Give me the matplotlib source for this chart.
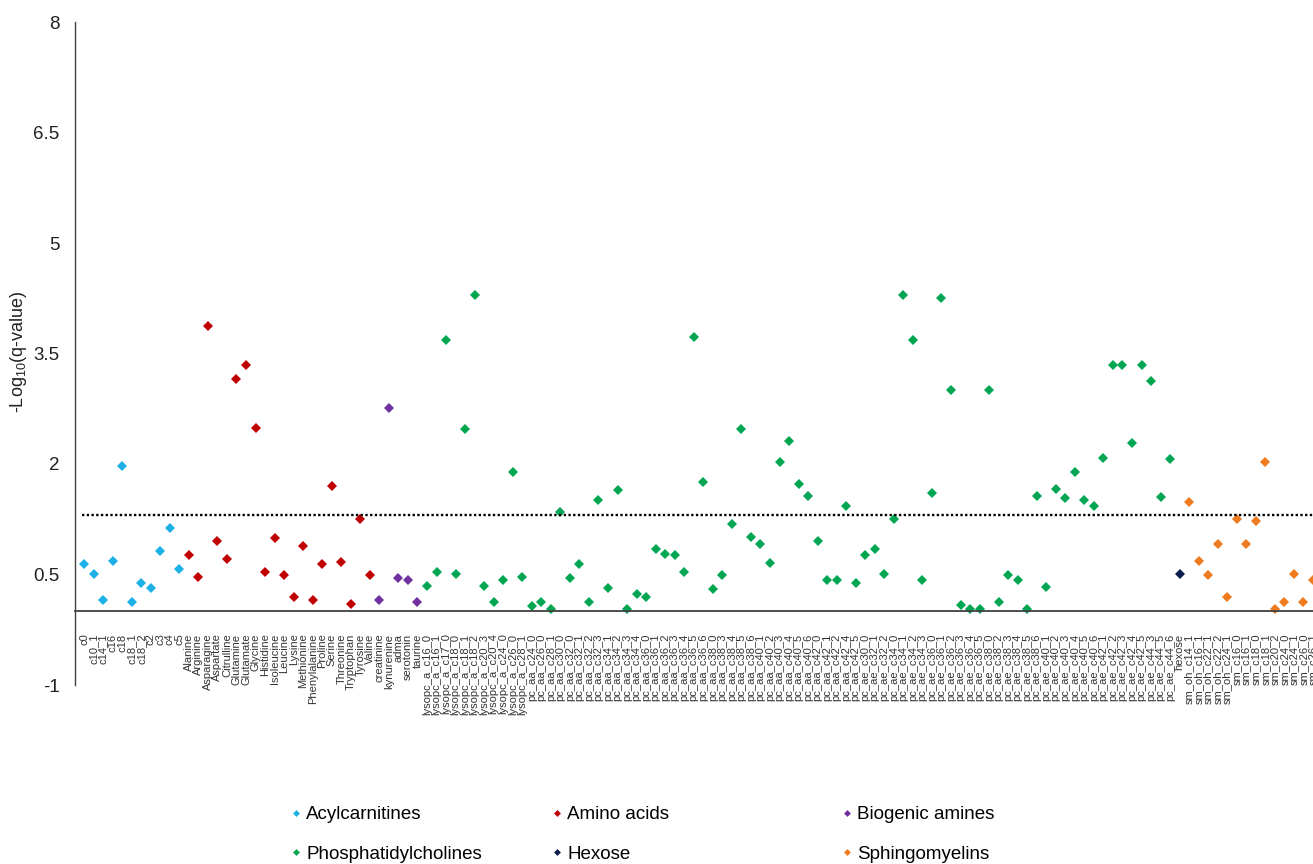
import numpy as np
import matplotlib
matplotlib.use("Agg")
import matplotlib.pyplot as plt

plt.rcParams['font.family'] = ['Liberation Sans', 'DejaVu Sans']
plt.rcParams['mathtext.fontset'] = 'custom'
plt.rcParams['mathtext.rm'] = 'Liberation Sans'
plt.rcParams['mathtext.it'] = 'Liberation Sans:italic'

# ---------------- data ----------------
acyl_labels = ["c0", "c10_1", "c14_1", "c16", "c18", "c18_1", "c18_2", "c2", "c3", "c4", "c5"]
acyl_values = [0.64, 0.51, 0.15, 0.68, 1.97, 0.13, 0.39, 0.31, 0.82, 1.13, 0.58]

amino_labels = ["Alanine", "Arginine", "Asparagine", "Aspartate", "Citrulline", "Glutamine",
                "Glutamate", "Glycine", "Histidine", "Isoleucine", "Leucine", "Lysine",
                "Methionine", "Phenylalanine", "Proline", "Serine", "Threonine",
                "Tryptophan", "Tyrosine", "Valine"]
amino_values = [0.77, 0.47, 3.88, 0.95, 0.71, 3.16, 3.35, 2.49, 0.54, 0.99, 0.50, 0.20,
                0.89, 0.16, 0.64, 1.70, 0.67, 0.10, 1.26, 0.49]

biogenic_labels = ["creatinine", "kynurenine", "adma", "serotonin", "taurine"]
biogenic_values = [0.16, 2.76, 0.45, 0.43, 0.12]

pc_labels = (["lysopc_a_c16_0", "lysopc_a_c16_1", "lysopc_a_c17_0", "lysopc_a_c18_0",
              "lysopc_a_c18_1", "lysopc_a_c18_2", "lysopc_a_c20_3", "lysopc_a_c20_4",
              "lysopc_a_c24_0", "lysopc_a_c26_0", "lysopc_a_c28_1"]
             + ["pc_aa_c24_0", "pc_aa_c26_0", "pc_aa_c28_1", "pc_aa_c30_0", "pc_aa_c32_0",
                "pc_aa_c32_1", "pc_aa_c32_2", "pc_aa_c32_3", "pc_aa_c34_1", "pc_aa_c34_2",
                "pc_aa_c34_3", "pc_aa_c34_4", "pc_aa_c36_0", "pc_aa_c36_1", "pc_aa_c36_2",
                "pc_aa_c36_3", "pc_aa_c36_4", "pc_aa_c36_5", "pc_aa_c36_6", "pc_aa_c38_0",
                "pc_aa_c38_3", "pc_aa_c38_4", "pc_aa_c38_5", "pc_aa_c38_6", "pc_aa_c40_1",
                "pc_aa_c40_2", "pc_aa_c40_3", "pc_aa_c40_4", "pc_aa_c40_5", "pc_aa_c40_6",
                "pc_aa_c42_0", "pc_aa_c42_1", "pc_aa_c42_2", "pc_aa_c42_4", "pc_aa_c42_5"]
             + ["pc_ae_c30_0", "pc_ae_c32_1", "pc_ae_c32_2", "pc_ae_c34_0", "pc_ae_c34_1",
                "pc_ae_c34_2", "pc_ae_c34_3", "pc_ae_c36_0", "pc_ae_c36_1", "pc_ae_c36_2",
                "pc_ae_c36_3", "pc_ae_c36_4", "pc_ae_c36_5", "pc_ae_c38_0", "pc_ae_c38_2",
                "pc_ae_c38_3", "pc_ae_c38_4", "pc_ae_c38_5", "pc_ae_c38_6", "pc_ae_c40_1",
                "pc_ae_c40_2", "pc_ae_c40_3", "pc_ae_c40_4", "pc_ae_c40_5", "pc_ae_c40_6",
                "pc_ae_c42_1", "pc_ae_c42_2", "pc_ae_c42_3", "pc_ae_c42_4", "pc_ae_c42_5",
                "pc_ae_c44_3", "pc_ae_c44_5", "pc_ae_c44_6"])
pc_values = [0.35, 0.54, 3.68, 0.51, 2.47, 4.30, 0.35, 0.12, 0.43, 1.89, 0.46,
             0.07, 0.13, 0.03, 1.35, 0.45, 0.64, 0.12, 1.51, 0.31, 1.65, 0.03, 0.24,
             0.20, 0.85, 0.78, 0.77, 0.54, 3.73, 1.76, 0.30, 0.50, 1.19, 2.47, 1.01,
             0.91, 0.65, 2.03, 2.31, 1.73, 1.57, 0.95, 0.42, 0.43, 1.43, 0.39,
             0.77, 0.84, 0.51, 1.26, 4.30, 3.68, 0.42, 1.61, 4.26, 3.01, 0.08, 0.03,
             0.03, 3.01, 0.12, 0.50, 0.42, 0.03, 1.57, 0.33, 1.66, 1.54, 1.89,
             1.51, 1.43, 2.08, 3.34, 3.34, 2.28, 3.34, 3.12, 1.55, 2.07]

hexose_labels = ["hexose"]
hexose_values = [0.51]

sm_labels = ["sm_oh_c14_1", "sm_oh_c16_1", "sm_oh_c22_1", "sm_oh_c22_2", "sm_oh_c24_1",
             "sm_c16_0", "sm_c16_1", "sm_c18_0", "sm_c18_1", "sm_c20_2", "sm_c24_0",
             "sm_c24_1", "sm_c26_0", "sm_c26_1"]
sm_values = [1.49, 0.68, 0.50, 0.92, 0.20, 1.26, 0.92, 1.23, 2.03, 0.03, 0.12, 0.51, 0.12, 0.43]

groups = [
    ("Acylcarnitines", acyl_labels, acyl_values, "#1CB0E6"),
    ("Amino acids", amino_labels, amino_values, "#C00000"),
    ("Biogenic amines", biogenic_labels, biogenic_values, "#7030A0"),
    ("Phosphatidylcholines", pc_labels, pc_values, "#00A651"),
    ("Hexose", hexose_labels, hexose_values, "#0D1F4F"),
    ("Sphingomyelins", sm_labels, sm_values, "#F07A1E"),
]

y_ticks = [-1, 0.5, 2, 3.5, 5, 6.5, 8]
threshold = -np.log10(0.05)

# ---------------- figure ----------------
W, H = 1313, 864
fig = plt.figure(figsize=(W / 100, H / 100), dpi=100)
ax = fig.add_axes([75 / W, 1 - 685 / H, 1 - 75 / W, (685 - 22) / H])

# spine placement first (it resets tick settings)
ax.spines['top'].set_visible(False)
ax.spines['right'].set_visible(False)
ax.spines['bottom'].set_position(('data', 0))
ax.spines['bottom'].set_color('#404040')
ax.spines['bottom'].set_linewidth(1.3)
ax.spines['left'].set_color('#404040')
ax.spines['left'].set_linewidth(1.0)

all_labels = []
handles = {}
start = 0
for name, labels, values, color in groups:
    x = np.arange(start, start + len(values))
    h, = ax.plot(x, values, linestyle='none', marker='D', markersize=5.0,
                 markeredgewidth=0, color=color, label=name, clip_on=True)
    handles[name] = h
    all_labels += labels
    start += len(values)

ax.axhline(threshold, xmin=0.006, color='black', linestyle=(0, (1, 1)), linewidth=1.7)

ax.set_xlim(-0.95, 128.95)
ax.set_ylim(-1, 8)
ax.set_yticks(y_ticks)
ax.set_yticklabels([f"{t:g}" for t in y_ticks])
ax.set_xticks(np.arange(len(all_labels)))
ax.set_xticklabels(all_labels, rotation=90, fontsize=8, va='top', ha='center')

ax.tick_params(axis='x', length=0, pad=16, colors='#333333')
ax.tick_params(axis='y', length=0, pad=11, labelsize=13.5, colors='#222222')

ax.set_ylabel(r'-Log$_{10}$(q-value)', fontsize=13, color='#222222')
ax.yaxis.label.set_va('center')
ax.yaxis.set_label_coords((19 - 75) / (W - 75), (685 - 352) / (685 - 22))

# legend: three columns of two rows
cols = [("Acylcarnitines", "Phosphatidylcholines", 292),
        ("Amino acids", "Hexose", 553),
        ("Biogenic amines", "Sphingomyelins", 843)]
for a, b, px in cols:
    fig.legend([handles[a], handles[b]], [a, b], loc='upper left',
               bbox_to_anchor=(px / W, 1 - 806 / H), frameon=False,
               fontsize=13.5, handlelength=0.45, handletextpad=0.3,
               labelspacing=1.2, borderpad=0, borderaxespad=0, markerscale=0.7)

fig.savefig("out.png", dpi=100)
